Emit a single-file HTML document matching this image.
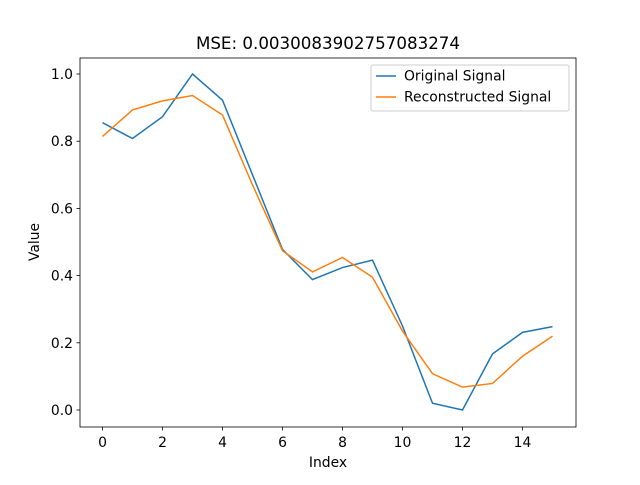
<!DOCTYPE html>
<html><head><meta charset="utf-8"><style>
body{margin:0;background:#fff;}
svg text{font-family:"DejaVu Sans","Liberation Sans",sans-serif;fill:#000;}
</style></head><body>
<svg id="chart" width="640" height="480">
<rect width="640" height="480" fill="#fff"/>
<text x="328" y="49" font-size="16.7" text-anchor="middle">MSE: 0.0030083902757083274</text>
<g id="grid"></g>
<g id="series"></g>
<rect x="80" y="58" width="496" height="369" fill="none" stroke="#000" stroke-width="0.8"/>
<text x="328" y="467" font-size="13.9" text-anchor="middle">Index</text>
<text x="0" y="0" font-size="13.9" text-anchor="middle" transform="translate(39,242) rotate(-90)">Value</text>
<g>
<rect x="371" y="65" width="198" height="46" rx="2" fill="#fff" fill-opacity="0.8" stroke="#ccc"/>
<line x1="376" y1="76" x2="396" y2="76" stroke="#1f77b4" stroke-width="1.5"/>
<text x="404" y="80.5" font-size="13.9">Original Signal</text>
<line x1="376" y1="97" x2="396" y2="97" stroke="#ff7f0e" stroke-width="1.5"/>
<text x="404" y="101.5" font-size="13.9">Reconstructed Signal</text>
</g>
</svg>
<script>
const indices=[0,1,2,3,4,5,6,7,8,9,10,11,12,13,14,15];
const original=[0.855,0.808,0.873,1.0,0.922,0.70,0.478,0.388,0.424,0.446,0.25,0.02,0.0,0.167,0.231,0.248];
const reconstructed=[0.814,0.893,0.920,0.936,0.878,0.67,0.474,0.411,0.454,0.395,0.235,0.108,0.068,0.079,0.160,0.220];
const xTicks=[0,2,4,6,8,10,12,14];
const yTicks=[0.0,0.2,0.4,0.6,0.8,1.0];
const NS="http://www.w3.org/2000/svg";
const xs=v=>102.5+30*v;
const ys=v=>410-336*v;
const g=document.getElementById('grid');
function mk(t,a,p){const e=document.createElementNS(NS,t);for(const k in a)e.setAttribute(k,a[k]);p.appendChild(e);return e;}
xTicks.forEach(t=>{
 const l=mk('line',{x1:xs(t),x2:xs(t),y1:427,y2:430.5,stroke:'#000','stroke-width':0.8},g);
 
 
 const tx=mk('text',{x:xs(t),y:447,'font-size':13.9,'text-anchor':'middle'},g);tx.textContent=t;
 
 
});
yTicks.forEach(t=>{
 const l=mk('line',{x1:76.5,x2:80,y1:ys(t),y2:ys(t),stroke:'#000','stroke-width':0.8},g);
 
 
 const tx=mk('text',{x:73,y:ys(t)+5,'font-size':13.9,'text-anchor':'end'},g);tx.textContent=t.toFixed(1);
 
 
});
const s=document.getElementById('series');
const p1=mk('polyline',{points:indices.map((x,i)=>xs(x)+','+ys(original[i])).join(' '),fill:'none',stroke:'#1f77b4','stroke-width':1.5},s);


const p2=mk('polyline',{points:indices.map((x,i)=>xs(x)+','+ys(reconstructed[i])).join(' '),fill:'none',stroke:'#ff7f0e','stroke-width':1.5},s);


</script>
</body></html>
